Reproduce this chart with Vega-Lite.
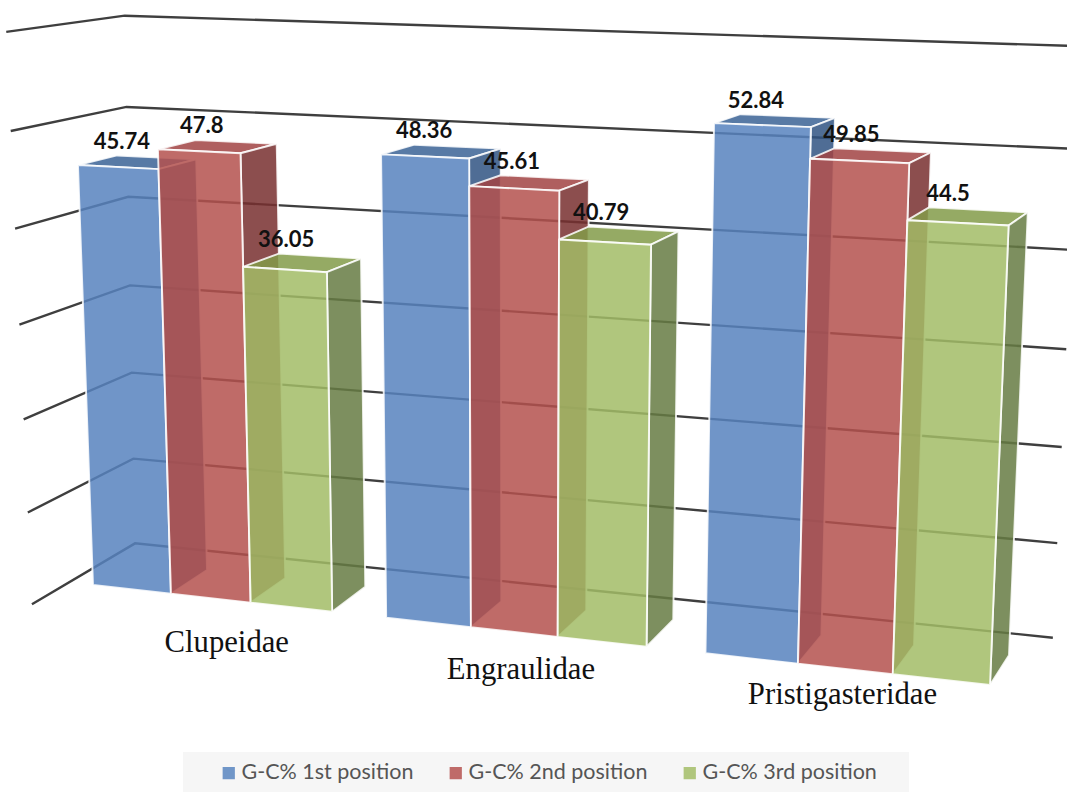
{
  "$schema": "https://vega.github.io/schema/vega-lite/v6.json",
  "width": 1067,
  "height": 792,
  "padding": 0,
  "autosize": "none",
  "background": "white",
  "view": {"stroke": null},
  "config": {"view": {"stroke": null}},
  "datasets": {
    "bars": [
      {"family": "Clupeidae", "series": "G-C% 1st position", "value": 45.74},
      {"family": "Clupeidae", "series": "G-C% 2nd position", "value": 47.8},
      {"family": "Clupeidae", "series": "G-C% 3rd position", "value": 36.05},
      {"family": "Engraulidae", "series": "G-C% 1st position", "value": 48.36},
      {"family": "Engraulidae", "series": "G-C% 2nd position", "value": 45.61},
      {"family": "Engraulidae", "series": "G-C% 3rd position", "value": 40.79},
      {"family": "Pristigasteridae", "series": "G-C% 1st position", "value": 52.84},
      {"family": "Pristigasteridae", "series": "G-C% 2nd position", "value": 49.85},
      {"family": "Pristigasteridae", "series": "G-C% 3rd position", "value": 44.5}
    ],
    "levels": [
      {"level": 0}, {"level": 10}, {"level": 20}, {"level": 30},
      {"level": 40}, {"level": 50}, {"level": 60}
    ],
    "families": [
      {"family": "Clupeidae"},
      {"family": "Engraulidae"},
      {"family": "Pristigasteridae"}
    ]
  },
  "layer": [
    {
      "description": "Floor and wall gridlines of the 3-D box, one polyline per value level",
      "data": {"name": "levels"},
      "transform": [
        {"calculate": "[{k:0,u:-0.33-0.0005*datum.level,v:datum.level,z:-0.9},{k:1,u:-0.3+0.0015*datum.level,v:datum.level*1.006,z:1.745},{k:2,u:10.62,v:datum.level,z:1.745}]", "as": "verts"},
        {"flatten": ["verts"], "as": ["p"]},
        {"calculate": "(93+76*datum.p.u-0.387*datum.p.v+40.6*datum.p.z)/(1-0.0112*datum.p.u-0.00075*datum.p.v+0.0236*datum.p.z)", "as": "px"},
        {"calculate": "(585+2.04*datum.p.u-9.305*datum.p.v-4*datum.p.z)/(1-0.0112*datum.p.u-0.00075*datum.p.v+0.034*datum.p.z)", "as": "py"},
        {"calculate": "datum.p.k", "as": "k"}
      ],
      "mark": {"type": "line", "stroke": "#3f3f3f", "strokeWidth": 2.4, "clip": true},
      "encoding": {
        "x": {"field": "px", "type": "quantitative", "scale": {"domain": [0, 1067], "nice": false, "zero": false}, "axis": null},
        "y": {"field": "py", "type": "quantitative", "scale": {"domain": [792, 0], "nice": false, "zero": false}, "axis": null},
        "detail": {"field": "level"},
        "order": {"field": "k"}
      }
    },
    {
      "description": "Top, side and front faces of each bar, painted back to front through the projection",
      "data": {"name": "bars"},
      "transform": [
        {"calculate": "indexof(['Clupeidae','Engraulidae','Pristigasteridae'],datum.family)*3.65+indexof(['G-C% 1st position','G-C% 2nd position','G-C% 3rd position'],datum.series)", "as": "u0"},
        {"calculate": "datum.u0+1", "as": "u1"},
        {"calculate": "[{f:'top',k:0,u:datum.u0,v:datum.value,z:0},{f:'top',k:1,u:datum.u1,v:datum.value,z:0},{f:'top',k:2,u:datum.u1,v:datum.value,z:1},{f:'top',k:3,u:datum.u0,v:datum.value,z:1},{f:'top',k:4,u:datum.u0,v:datum.value,z:0},{f:'side',k:0,u:datum.u1,v:0,z:0},{f:'side',k:1,u:datum.u1,v:datum.value,z:0},{f:'side',k:2,u:datum.u1,v:datum.value,z:1},{f:'side',k:3,u:datum.u1,v:0,z:1},{f:'side',k:4,u:datum.u1,v:0,z:0},{f:'front',k:0,u:datum.u0,v:0,z:0},{f:'front',k:1,u:datum.u1,v:0,z:0},{f:'front',k:2,u:datum.u1,v:datum.value,z:0},{f:'front',k:3,u:datum.u0,v:datum.value,z:0},{f:'front',k:4,u:datum.u0,v:0,z:0}]", "as": "verts"},
        {"flatten": ["verts"], "as": ["p"]},
        {"calculate": "(93+76*datum.p.u-0.387*datum.p.v+40.6*datum.p.z)/(1-0.0112*datum.p.u-0.00075*datum.p.v+0.0236*datum.p.z)", "as": "px"},
        {"calculate": "(585+2.04*datum.p.u-9.305*datum.p.v-4*datum.p.z)/(1-0.0112*datum.p.u-0.00075*datum.p.v+0.034*datum.p.z)", "as": "py"},
        {"calculate": "datum.p.k", "as": "k"},
        {"calculate": "datum.series+'|'+datum.p.f", "as": "shade"},
        {"calculate": "datum.family+'|'+datum.series+'|'+datum.p.f", "as": "faceId"}
      ],
      "mark": {"type": "line", "stroke": "#ffffff", "strokeWidth": 1.9, "strokeOpacity": 0.85, "fillOpacity": 0.85, "strokeJoin": "round"},
      "encoding": {
        "x": {"field": "px", "type": "quantitative"},
        "y": {"field": "py", "type": "quantitative"},
        "detail": {"field": "faceId"},
        "order": {"field": "k"},
        "fill": {
          "field": "shade",
          "type": "nominal",
          "legend": null,
          "scale": {
            "domain": [
              "G-C% 1st position|front", "G-C% 1st position|side", "G-C% 1st position|top",
              "G-C% 2nd position|front", "G-C% 2nd position|side", "G-C% 2nd position|top",
              "G-C% 3rd position|front", "G-C% 3rd position|side", "G-C% 3rd position|top"
            ],
            "range": [
              "#5783be", "#305483", "#3b6395",
              "#b4514e", "#782f2f", "#a14343",
              "#a2bc66", "#667b43", "#839b49"
            ]
          }
        }
      }
    },
    {
      "description": "Value printed above each bar",
      "data": {"name": "bars"},
      "transform": [
        {"calculate": "indexof(['Clupeidae','Engraulidae','Pristigasteridae'],datum.family)*3.65+indexof(['G-C% 1st position','G-C% 2nd position','G-C% 3rd position'],datum.series)", "as": "u0"},
        {"calculate": "datum.u0+0.06+0.0145*datum.u0", "as": "u"},
        {"calculate": "(93+76*datum.u-0.387*datum.value+40.6)/(1-0.0112*datum.u-0.00075*datum.value+0.0236)", "as": "px"},
        {"calculate": "(585+2.04*datum.u-9.305*datum.value-4)/(1-0.0112*datum.u-0.00075*datum.value+0.034)", "as": "py"}
      ],
      "mark": {"type": "text", "font": "Lato", "fontWeight": "bold", "fontSize": 22, "color": "#111111", "baseline": "middle", "align": "center", "dy": -14},
      "encoding": {
        "x": {"field": "px", "type": "quantitative"},
        "y": {"field": "py", "type": "quantitative"},
        "text": {"field": "value", "type": "nominal"}
      }
    },
    {
      "description": "Family names along the front of the floor",
      "data": {"name": "families"},
      "transform": [
        {"calculate": "{Clupeidae:1.69,Engraulidae:5.23,Pristigasteridae:8.78}[datum.family]", "as": "u"},
        {"calculate": "{Clupeidae:-4.8,Engraulidae:-4,Pristigasteridae:-2.7}[datum.family]", "as": "v"},
        {"calculate": "(93+76*datum.u-0.387*datum.v)/(1-0.0112*datum.u-0.00075*datum.v)", "as": "px"},
        {"calculate": "(585+2.04*datum.u-9.305*datum.v)/(1-0.0112*datum.u-0.00075*datum.v)", "as": "py"}
      ],
      "mark": {"type": "text", "font": "Liberation Serif", "fontSize": 30.7, "color": "#111111", "baseline": "middle", "align": "center"},
      "encoding": {
        "x": {"field": "px", "type": "quantitative"},
        "y": {"field": "py", "type": "quantitative"},
        "text": {"field": "family", "type": "nominal"}
      }
    },
    {
      "description": "Zero-size marks that carry the series legend",
      "data": {"name": "bars"},
      "mark": {"type": "square", "size": 0, "opacity": 1},
      "encoding": {
        "x": {"field": "value", "type": "quantitative"},
        "y": {"field": "value", "type": "quantitative"},
        "color": {
          "field": "series",
          "type": "nominal",
          "scale": {
            "domain": ["G-C% 1st position", "G-C% 2nd position", "G-C% 3rd position"],
            "range": ["#7096c8", "#bf6b69", "#b0c67d"]
          },
          "legend": {
            "title": null,
            "orient": "none",
            "legendX": 183,
            "legendY": 752,
            "direction": "horizontal",
            "columns": 3,
            "fillColor": "#f6f6f6",
            "padding": 10,
            "symbolType": "square",
            "symbolSize": 150,
            "symbolOffset": 25,
            "symbolStrokeWidth": 0,
            "symbolOpacity": 1,
            "columnPadding": 6,
            "labelOffset": 2,
            "labelExpr": "indexof(datum.label,'3rd')>=0?datum.label+'\u00a0\u00a0\u00a0\u00a0\u200b':datum.label",
            "labelFont": "Lato",
            "labelFontSize": 21.5,
            "labelColor": "#555555",
            "labelLimit": 300
          }
        }
      }
    }
  ]
}
